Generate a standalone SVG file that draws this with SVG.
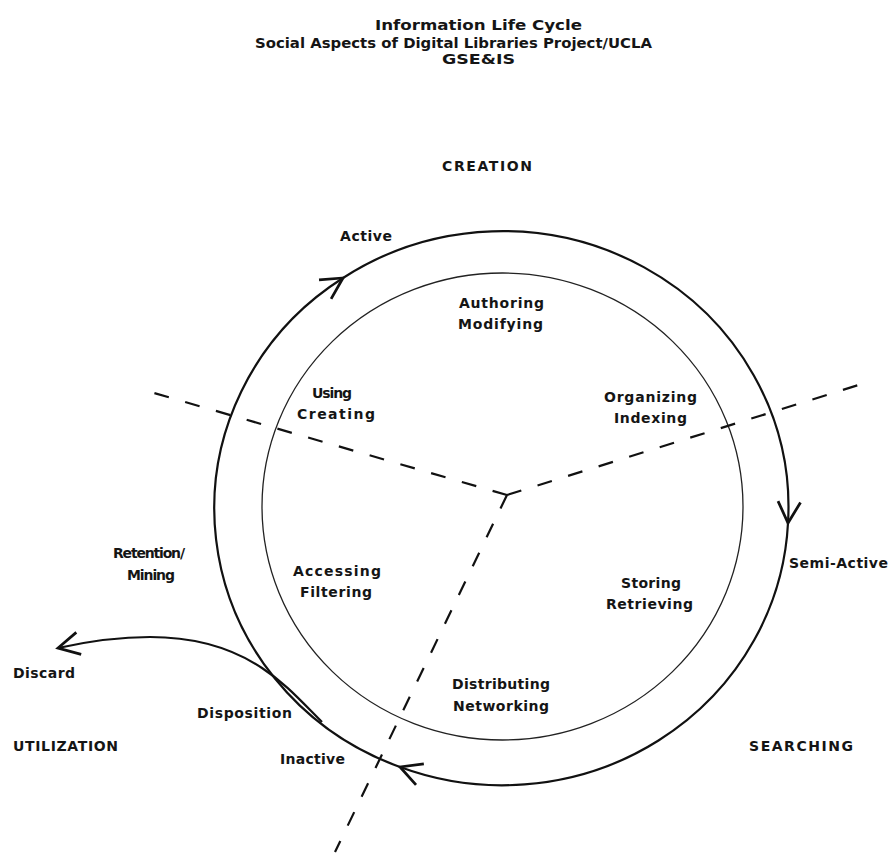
<svg xmlns="http://www.w3.org/2000/svg" width="891" height="854" viewBox="0 0 891 854">
<style>
text { font-family: "DejaVu Sans", "Liberation Sans", Arial, sans-serif; font-weight: bold; font-size: 14px; fill: #151515; }
.title { font-size: 13.5px; }
.outer { fill: none; stroke: #111; stroke-width: 2.2; }
.inner { fill: none; stroke: #222; stroke-width: 1.3; }
.dash { fill: none; stroke: #111; stroke-width: 2.2; stroke-dasharray: 15 17; }
</style>
<defs>
<marker id="vee" markerUnits="userSpaceOnUse" markerWidth="30" markerHeight="30" viewBox="-20 -12 24 24" refX="0" refY="0" orient="auto">
<path d="M -17,-9 L 0,0 L -17,9" fill="none" stroke="#111" stroke-width="2.2"/>
</marker>
</defs>

<g id="title">
<text class="title" x="375" y="30" textLength="207" lengthAdjust="spacingAndGlyphs">Information Life Cycle</text>
<text class="title" x="255" y="48" textLength="397" lengthAdjust="spacingAndGlyphs">Social Aspects of Digital Libraries Project/UCLA</text>
<text class="title" x="442" y="64" textLength="73" lengthAdjust="spacingAndGlyphs">GSE&amp;IS</text>
</g>

<g id="inner-circle">
<ellipse class="inner" cx="502.5" cy="506.5" rx="240.5" ry="233.5"/>
</g>

<g id="connectors">
<path class="outer" d="M 400,767 A 286 276 0 0 1 343,278" marker-end="url(#vee)"/>
<path class="outer" d="M 343,278 A 286 276 0 0 1 788,523" marker-end="url(#vee)"/>
<path class="outer" d="M 788,523 A 286 276 0 0 1 400,767" marker-end="url(#vee)"/>
<path class="outer" d="M 322,722 C 300,700 285,683 262,668 C 235,650 200,637 150,637 C 115,637 85,642 58,648" marker-end="url(#vee)"/>
<line class="dash" x1="507" y1="495" x2="147" y2="391"/>
<line class="dash" x1="507" y1="495" x2="865" y2="383"/>
<line class="dash" x1="507" y1="495" x2="335" y2="852"/>
</g>

<g id="creation"><text x="442" y="171" textLength="90" lengthAdjust="spacing">CREATION</text></g>
<g id="active"><text x="340" y="241" textLength="52" lengthAdjust="spacing">Active</text></g>
<g id="authoring"><text x="459" y="308" textLength="85" lengthAdjust="spacing">Authoring</text>
<text x="458" y="329" textLength="85" lengthAdjust="spacing">Modifying</text></g>
<g id="using"><text x="312" y="398" textLength="40" lengthAdjust="spacing">Using</text>
<text x="297" y="419" textLength="78" lengthAdjust="spacing">Creating</text></g>
<g id="organizing"><text x="604" y="402" textLength="93" lengthAdjust="spacing">Organizing</text>
<text x="614" y="423" textLength="73" lengthAdjust="spacing">Indexing</text></g>
<g id="retention"><text x="113" y="558" textLength="72" lengthAdjust="spacing">Retention/</text>
<text x="127" y="580" textLength="48" lengthAdjust="spacing">Mining</text></g>
<g id="accessing"><text x="293" y="576" textLength="88" lengthAdjust="spacing">Accessing</text>
<text x="300" y="597" textLength="72" lengthAdjust="spacing">Filtering</text></g>
<g id="storing"><text x="621" y="588" textLength="60" lengthAdjust="spacing">Storing</text>
<text x="606" y="609" textLength="87" lengthAdjust="spacing">Retrieving</text></g>
<g id="semi-active"><text x="789" y="568" textLength="99" lengthAdjust="spacing">Semi-Active</text></g>
<g id="discard"><text x="13" y="678" textLength="62" lengthAdjust="spacing">Discard</text></g>
<g id="distributing"><text x="452" y="689" textLength="98" lengthAdjust="spacing">Distributing</text>
<text x="453" y="711" textLength="96" lengthAdjust="spacing">Networking</text></g>
<g id="disposition"><text x="197" y="718" textLength="95" lengthAdjust="spacing">Disposition</text></g>
<g id="utilization"><text x="13" y="751" textLength="105" lengthAdjust="spacing">UTILIZATION</text></g>
<g id="searching"><text x="749" y="751" textLength="104" lengthAdjust="spacing">SEARCHING</text></g>
<g id="inactive"><text x="280" y="764" textLength="65" lengthAdjust="spacing">Inactive</text></g>
</svg>
